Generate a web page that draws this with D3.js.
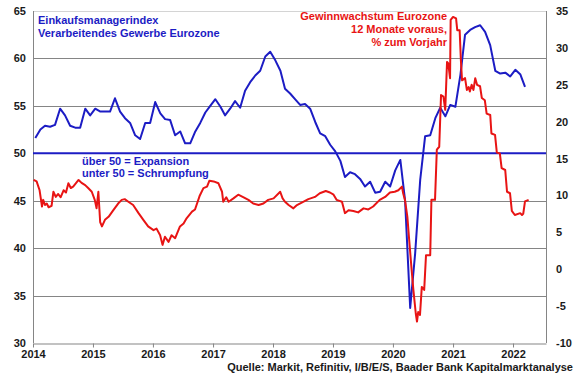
<!DOCTYPE html>
<html>
<head>
<meta charset="utf-8">
<script src="https://cdn.jsdelivr.net/npm/d3@7"></script>
<style>
body { margin: 0; background: #fff; }
text { font-family: "Liberation Sans", Arial, sans-serif; font-weight: bold; font-size: 11px; }
</style>
</head>
<body>
<div class="viz"></div>
<script>
// PMI, monthly from Jan 2014
var pmiStart = [2014, 0];
var pmiValues = [
    51.6, 52.5, 52.9, 52.8, 53.0, 54.7, 54.0, 52.9, 52.7, 52.7,
    54.7, 54.0, 54.7, 54.4, 54.4, 54.4, 55.8, 54.4, 53.7, 53.2,
    51.9, 51.5, 53.2, 53.2, 55.4, 54.2, 53.6, 53.5, 51.9, 52.3,
    51.05, 51.05, 52.3, 53.2, 54.3, 55.0, 55.7, 54.9, 54.0, 54.7,
    55.5, 54.8, 56.6, 57.5, 58.2, 58.7, 60.2, 60.7, 59.8, 58.7,
    56.8, 56.3, 55.7, 55.1, 55.2, 54.7, 53.3, 52.1, 51.8, 50.9,
    50.2, 49.2, 47.5, 48.0, 47.8, 47.3, 46.5, 47.0, 45.85, 45.95,
    47.0, 46.5, 48.2, 49.3, 45.0, 33.7, 39.4, 47.2, 51.8, 51.9,
    53.7, 54.8, 53.9, 55.1, 54.9, 58.3, 62.5, 63.0, 63.3, 63.5,
    62.8, 61.4, 58.7, 58.4, 58.5, 58.1, 58.8, 58.3, 57.0
];

// earnings growth 12m forward, read at irregular dates (decimal years)
var epsYears = [
    2014.01, 2014.06, 2014.11, 2014.15, 2014.17, 2014.20, 2014.23, 2014.26, 2014.31, 2014.34,
    2014.38, 2014.42, 2014.46, 2014.51, 2014.55, 2014.59, 2014.63, 2014.67, 2014.72, 2014.76,
    2014.81, 2014.87, 2014.92, 2014.98, 2015.03, 2015.06, 2015.09, 2015.12, 2015.15, 2015.20,
    2015.26, 2015.34, 2015.42, 2015.48, 2015.53, 2015.59, 2015.67, 2015.76, 2015.84, 2015.92,
    2016.01, 2016.06, 2016.12, 2016.16, 2016.20, 2016.26, 2016.31, 2016.37, 2016.45, 2016.51,
    2016.56, 2016.65, 2016.70, 2016.78, 2016.84, 2016.90, 2016.94, 2017.01, 2017.09, 2017.15,
    2017.17, 2017.22, 2017.26, 2017.34, 2017.42, 2017.51, 2017.59, 2017.67, 2017.76, 2017.84,
    2017.92, 2018.01, 2018.12, 2018.16, 2018.20, 2018.26, 2018.34, 2018.40, 2018.51, 2018.59,
    2018.70, 2018.78, 2018.88, 2018.95, 2019.01, 2019.06, 2019.15, 2019.20, 2019.26, 2019.34,
    2019.42, 2019.51, 2019.59, 2019.67, 2019.78, 2019.87, 2019.95, 2020.03, 2020.09, 2020.15,
    2020.17, 2020.20, 2020.24, 2020.27, 2020.31, 2020.34, 2020.38, 2020.40, 2020.42, 2020.45,
    2020.48, 2020.52, 2020.55, 2020.62, 2020.64, 2020.70, 2020.73, 2020.77, 2020.80, 2020.84,
    2020.87, 2020.90, 2020.92, 2020.95, 2020.96, 2021.00, 2021.05, 2021.07, 2021.11, 2021.13,
    2021.15, 2021.20, 2021.23, 2021.26, 2021.28, 2021.31, 2021.34, 2021.37, 2021.40, 2021.45,
    2021.48, 2021.53, 2021.56, 2021.62, 2021.64, 2021.70, 2021.73, 2021.78, 2021.81, 2021.87,
    2021.90, 2021.95, 2021.98, 2022.03, 2022.12, 2022.15, 2022.17, 2022.20, 2022.26
];
var epsValues = [
    12.1, 11.9, 10.7, 8.5, 9.4, 8.7, 8.9, 8.4, 8.6, 10.5,
    9.8, 10.2, 9.75, 10.7, 10.4, 11.65, 11.0, 11.2, 11.7, 12.1,
    11.7, 11.4, 11.0, 10.5, 9.4, 8.25, 10.5, 6.4, 5.8, 6.7,
    7.1, 8.0, 8.9, 9.4, 9.5, 9.15, 8.7, 7.6, 6.7, 5.8,
    5.3, 5.5, 4.6, 3.3, 4.4, 3.7, 4.6, 4.2, 5.8, 6.2,
    6.9, 7.8, 8.1, 10.0, 11.0, 11.2, 12.0, 11.9, 11.65, 10.5,
    9.15, 9.75, 9.15, 9.6, 10.1, 9.75, 9.4, 8.9, 8.7, 8.9,
    9.4, 9.6, 10.5, 9.6, 9.15, 8.7, 8.25, 8.7, 9.15, 9.5,
    9.8, 10.3, 10.6, 10.4, 10.1, 9.4, 9.15, 7.6, 8.0, 7.9,
    7.7, 8.25, 8.1, 8.5, 9.4, 9.8, 10.4, 10.5, 10.7, 11.2,
    10.3, 9.4, 7.1, 4.0, 0.0, -2.8, -6.0, -7.1, -5.8, -6.2,
    -2.4, -2.8, 1.9, 1.9, 9.4, 9.4, 16.2, 16.6, 23.6, 23.4,
    21.6, 28.1, 27.9, 25.9, 33.8, 34.2, 34.0, 32.4, 32.4, 28.4,
    25.6, 25.9, 24.3, 24.7, 24.1, 25.0, 24.3, 25.9, 25.0, 24.8,
    23.2, 22.9, 21.1, 20.9, 18.4, 18.2, 15.8, 15.7, 13.7, 13.45,
    10.5, 10.3, 7.9, 7.35, 7.6, 7.35, 7.5, 9.2, 9.4
];

var leftTicks = [30, 35, 40, 45, 50, 55, 60, 65];
var rightTicks = [-10, -5, 0, 5, 10, 15, 20, 25, 30, 35];
var yearTicks = [2014, 2015, 2016, 2017, 2018, 2019, 2020, 2021, 2022];

var width = 580,
    height = 375,
    margin = {left: 33, right: 34, top: 11, bottom: 32};

var blue = "#1c1cc4",
    red = "#e81414",
    grid = "#858585";

function yearToDate(y) {
    var yr = Math.floor(y);
    var start = new Date(yr, 0, 1), end = new Date(yr + 1, 0, 1);
    return new Date(+start + (y - yr) * (end - start));
}

var svg = d3.select(".viz").append("svg")
    .attr("width", width)
    .attr("height", height);

var x = d3.scaleTime()
    .domain([new Date(2014, 0, 1), yearToDate(2022.55)])
    .range([margin.left, width - margin.right]);

var yLeft = d3.scaleLinear()
    .domain([30, 65])
    .range([height - margin.bottom, margin.top]);

var yRight = d3.scaleLinear()
    .domain([-10, 35])
    .range([height - margin.bottom, margin.top]);

var x0 = x.range()[0], x1 = x.range()[1];

// gridlines
svg.append("g").selectAll("line")
    .data(leftTicks.filter(function(d) { return d != 30 && d != 50; }))
    .enter().append("line")
    .attr("x1", x0).attr("x2", x1)
    .attr("y1", function(d) { return Math.round(yLeft(d)) + 0.5; })
    .attr("y2", function(d) { return Math.round(yLeft(d)) + 0.5; })
    .attr("stroke", function(d) { return d == 65 ? "#d4d4d4" : grid; })
    .attr("stroke-width", 1);

// frame
svg.append("line")
    .attr("x1", x0 + 0.5).attr("x2", x0 + 0.5)
    .attr("y1", yLeft(65)).attr("y2", yLeft(30))
    .attr("stroke", grid);
svg.append("line")
    .attr("x1", x1 + 0.5).attr("x2", x1 + 0.5)
    .attr("y1", yLeft(65)).attr("y2", yLeft(30))
    .attr("stroke", grid);

var xAxis = svg.append("g")
    .attr("transform", "translate(0," + (Math.round(yLeft(30)) + 0.5) + ")")
    .call(d3.axisBottom(x)
        .tickValues(yearTicks.map(function(d) { return new Date(d, 0, 1); }))
        .tickFormat(d3.timeFormat("%Y"))
        .tickSize(4)
        .tickSizeOuter(0)
        .tickPadding(3));
xAxis.select(".domain").attr("stroke", grid);
xAxis.selectAll(".tick line").attr("stroke", grid);
xAxis.selectAll("text")
    .attr("font-size", 11)
    .attr("font-family", null)
    .attr("fill", "#1a1a1a");

svg.append("g").selectAll("text")
    .data(leftTicks)
    .enter().append("text")
    .attr("x", 26)
    .attr("y", function(d) { return yLeft(d) + 4; })
    .attr("text-anchor", "end")
    .attr("fill", "#1a1a1a")
    .text(function(d) { return d; });

svg.append("g").selectAll("text")
    .data(rightTicks)
    .enter().append("text")
    .attr("x", 556)
    .attr("y", function(d) { return yRight(d) + 4; })
    .attr("fill", "#1a1a1a")
    .text(function(d) { return d; });

// 50 threshold
svg.append("line")
    .attr("x1", x0).attr("x2", x1)
    .attr("y1", yLeft(50)).attr("y2", yLeft(50))
    .attr("stroke", blue)
    .attr("stroke-width", 2);

var pmi = pmiValues.map(function(v, i) {
    return {date: new Date(pmiStart[0], pmiStart[1] + i, 15), value: v};
});
var eps = epsValues.map(function(v, i) {
    return {date: yearToDate(epsYears[i]), value: v};
});

var pmiLine = d3.line()
    .x(function(d) { return x(d.date); })
    .y(function(d) { return yLeft(d.value); });

var epsLine = d3.line()
    .x(function(d) { return x(d.date); })
    .y(function(d) { return yRight(d.value); });

svg.append("path")
    .datum(pmi)
    .attr("d", pmiLine)
    .attr("fill", "none")
    .attr("stroke", blue)
    .attr("stroke-width", 2)
    .attr("stroke-linejoin", "round");

svg.append("path")
    .datum(eps)
    .attr("d", epsLine)
    .attr("fill", "none")
    .attr("stroke", red)
    .attr("stroke-width", 2)
    .attr("stroke-linejoin", "round");

// annotations
var blueText = svg.append("text").attr("x", 38).attr("y", 24).attr("fill", blue);
blueText.append("tspan").attr("x", 38).text("Einkaufsmanagerindex");
blueText.append("tspan").attr("x", 38).attr("dy", 12.5).text("Verarbeitendes Gewerbe Eurozone");

var redText = svg.append("text").attr("y", 20).attr("fill", red).attr("text-anchor", "end");
["Gewinnwachstum Eurozone", "12 Monate voraus,", "% zum Vorjahr"].forEach(function(t, i) {
    redText.append("tspan").attr("x", 447).attr("dy", i ? 12.8 : 0).text(t);
});

var noteText = svg.append("text").attr("y", 165).attr("fill", blue);
noteText.append("tspan").attr("x", 82).text("über 50 = Expansion");
noteText.append("tspan").attr("x", 82).attr("dy", 12).text("unter 50 = Schrumpfung");

svg.append("text")
    .attr("x", 573)
    .attr("y", 371)
    .attr("text-anchor", "end")
    .attr("fill", "#1a1a1a")
    .text("Quelle: Markit, Refinitiv, I/B/E/S, Baader Bank Kapitalmarktanalyse");
</script>
</body>
</html>
